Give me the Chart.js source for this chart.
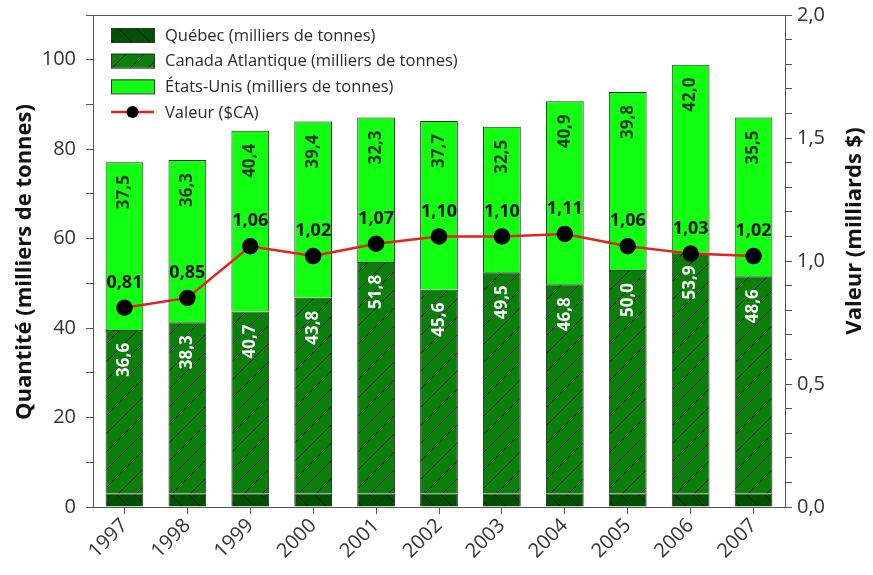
<!DOCTYPE html>
<html>
<head>
<meta charset="utf-8">
<script src="https://cdn.jsdelivr.net/npm/chart.js@4.4.1/dist/chart.umd.min.js"></script>
<style>
    html, body { margin: 0; padding: 0; background: #fff; }
    #wrap { width: 873px; height: 575px; }
</style>
</head>
<body>
<div id="wrap"><canvas id="chart"></canvas></div>
<script>
// data
const years = ['1997', '1998', '1999', '2000', '2001', '2002', '2003', '2004', '2005', '2006', '2007'];
const quebec = [3.0, 3.0, 3.0, 3.0, 3.0, 3.0, 3.0, 3.0, 3.0, 3.0, 3.0];
const canadaAtlantique = [36.6, 38.3, 40.7, 43.8, 51.8, 45.6, 49.5, 46.8, 50.0, 53.9, 48.6];
const etatsUnis = [37.5, 36.3, 40.4, 39.4, 32.3, 37.7, 32.5, 40.9, 39.8, 42.0, 35.5];
const valeur = [0.81, 0.85, 1.06, 1.02, 1.07, 1.10, 1.10, 1.11, 1.06, 1.03, 1.02];

Chart.defaults.font.family = "'Open Sans', sans-serif";
Chart.defaults.color = '#333';

const fr = (v, d) => v.toFixed(d).replace('.', ',');

function hatch(bg, forward) {
    const s = 18;
    const c = document.createElement('canvas');
    c.width = s; c.height = s;
    const g = c.getContext('2d');
    g.fillStyle = bg;
    g.fillRect(0, 0, s, s);
    g.strokeStyle = '#0d1f0d';
    g.lineWidth = 1;
    g.beginPath();
    if (forward) {
        g.moveTo(-1, s + 1); g.lineTo(s + 1, -1);
        g.moveTo(-s / 2, s / 2); g.lineTo(s / 2, -s / 2);
        g.moveTo(s / 2, s * 1.5); g.lineTo(s * 1.5, s / 2);
    } else {
        g.moveTo(-1, -1); g.lineTo(s + 1, s + 1);
        g.moveTo(-s / 2, s / 2); g.lineTo(s / 2, s * 1.5);
        g.moveTo(s / 2, -s / 2); g.lineTo(s * 1.5, s / 2);
    }
    g.stroke();
    return g.createPattern(c, 'repeat');
}

const quebecFill = hatch('#005200', false);
const atlantiqueFill = hatch('#0a800a', true);
const usFill = '#12ff12';

const frame = {
    id: 'frame',
    afterDraw(chart) {
        const { ctx, chartArea: a } = chart;
        ctx.save();
        ctx.strokeStyle = '#555';
        ctx.lineWidth = 1;
        ctx.strokeRect(a.left + 0.5, a.top + 0.5, a.right - a.left, a.bottom - a.top);
        ctx.restore();
    }
};

const valueLabels = {
    id: 'valueLabels',
    afterDatasetsDraw(chart) {
        const ctx = chart.ctx;
        ctx.save();
        ctx.textAlign = 'center';
        ctx.textBaseline = 'middle';
        ctx.font = "bold 17px 'Open Sans'";
        [[1, '#ffffff'], [2, '#103810']].forEach(([idx, color]) => {
            const data = chart.data.datasets[idx].data;
            chart.getDatasetMeta(idx).data.forEach((el, i) => {
                ctx.save();
                ctx.translate(el.x, el.y + 30);
                ctx.rotate(-Math.PI / 2);
                ctx.fillStyle = color;
                ctx.fillText(fr(data[i], 1), 0, 0);
                ctx.restore();
            });
        });
        ctx.font = "bold 18px 'Open Sans'";
        ctx.fillStyle = '#111';
        chart.getDatasetMeta(3).data.forEach((pt, i) => {
            ctx.fillText(fr(valeur[i], 2), pt.x, pt.y - 25);
        });
        ctx.restore();
    }
};

const legendBox = {
    id: 'legendBox',
    afterDraw(chart) {
        const ctx = chart.ctx;
        const ds = chart.data.datasets;
        const x0 = 111, w = 43, h = 14;
        ctx.save();
        ctx.font = "16.5px 'Open Sans'";
        ctx.textBaseline = 'middle';
        ds.forEach((d, i) => {
            const cy = 35 + i * 25.7;
            if (d.type === 'line') {
                ctx.strokeStyle = d.borderColor;
                ctx.lineWidth = 2.5;
                ctx.beginPath();
                ctx.moveTo(x0, cy); ctx.lineTo(x0 + w, cy);
                ctx.stroke();
                ctx.fillStyle = '#000';
                ctx.beginPath();
                ctx.arc(x0 + w / 2, cy, 6, 0, Math.PI * 2);
                ctx.fill();
            } else {
                ctx.fillStyle = d.backgroundColor;
                ctx.fillRect(x0, cy - h / 2, w, h);
                ctx.strokeStyle = '#333';
                ctx.lineWidth = 1;
                ctx.strokeRect(x0 + 0.5, cy - h / 2 + 0.5, w, h);
            }
            ctx.fillStyle = '#2a2a2a';
            ctx.fillText(d.label, 165, cy + 1);
        });
        ctx.restore();
    }
};

const axisTitles = {
    id: 'axisTitles',
    afterDraw(chart) {
        const ctx = chart.ctx;
        ctx.save();
        ctx.font = "bold 22px 'Open Sans'";
        ctx.fillStyle = '#111';
        ctx.textAlign = 'center';
        ctx.textBaseline = 'middle';
        [[25, 262, 'Quantité (milliers de tonnes)'], [855, 231, 'Valeur (milliards $)']].forEach(([x, y, t]) => {
            ctx.save();
            ctx.translate(x, y);
            ctx.rotate(-Math.PI / 2);
            ctx.fillText(t, 0, 0);
            ctx.restore();
        });
        ctx.restore();
    }
};

const barCommon = {
    type: 'bar',
    stack: 'q',
    yAxisID: 'y',
    borderColor: '#2b2b2b',
    borderWidth: 1,
    barPercentage: 0.6,
    categoryPercentage: 1,
    order: 1
};

new Chart(document.getElementById('chart'), {
    data: {
        labels: years,
        datasets: [
            { ...barCommon, label: 'Québec (milliers de tonnes)', data: quebec, backgroundColor: quebecFill },
            { ...barCommon, label: 'Canada Atlantique (milliers de tonnes)', data: canadaAtlantique, backgroundColor: atlantiqueFill },
            { ...barCommon, label: 'États-Unis (milliers de tonnes)', data: etatsUnis, backgroundColor: usFill },
            {
                type: 'line',
                label: 'Valeur ($CA)',
                data: valeur,
                yAxisID: 'y1',
                borderColor: '#e0231b',
                borderWidth: 2.5,
                pointRadius: 7,
                pointBackgroundColor: '#000',
                pointBorderColor: '#000',
                tension: 0,
                order: 0
            }
        ]
    },
    options: {
        responsive: true,
        maintainAspectRatio: false,
        animation: false,
        layout: { padding: { top: 15, left: 0, right: 0, bottom: 0 } },
        plugins: { legend: { display: false }, tooltip: { enabled: false } },
        scales: {
            x: {
                stacked: true,
                offset: true,
                grid: { offset: false, drawOnChartArea: false, tickLength: 7, color: '#555' },
                border: { color: '#555' },
                ticks: { maxRotation: 45, minRotation: 45, font: { size: 20 }, color: '#333', padding: 0 },
                afterFit: s => { s.height = 68; }
            },
            y: {
                stacked: true,
                position: 'left',
                min: 0,
                max: 110,
                grid: { drawOnChartArea: false, tickLength: 7, color: '#555' },
                border: { color: '#555' },
                ticks: {
                    stepSize: 10,
                    autoSkip: false,
                    font: { size: 20 },
                    color: '#333',
                    padding: 10,
                    callback: v => (v % 20 === 0 ? String(v) : '')
                },
                afterFit: s => { s.width = 93; s.paddingTop = 0; s.paddingBottom = 0; }
            },
            y1: {
                position: 'right',
                min: 0,
                max: 2,
                grid: { drawOnChartArea: false, tickLength: 7, color: '#555' },
                border: { color: '#555' },
                ticks: {
                    stepSize: 0.1,
                    autoSkip: false,
                    font: { size: 20 },
                    color: '#333',
                    padding: 5,
                    callback: v => (Math.round(v * 10) % 5 === 0 ? fr(v, 1) : '')
                },
                afterFit: s => { s.width = 88; s.paddingTop = 0; s.paddingBottom = 0; }
            }
        }
    },
    plugins: [frame, valueLabels, legendBox, axisTitles]
});
</script>
</body>
</html>
